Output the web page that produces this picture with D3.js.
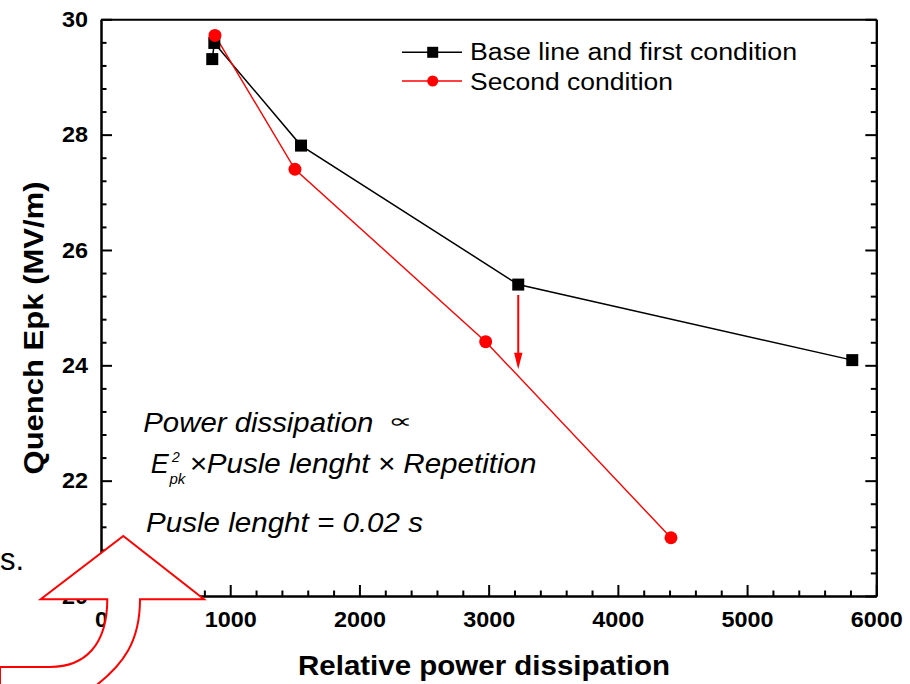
<!DOCTYPE html>
<html>
<head>
<meta charset="utf-8">
<script src="https://cdn.jsdelivr.net/npm/d3@7"></script>
<style>
  html, body { margin: 0; padding: 0; background: #fff; }
  svg { display: block; }
  text { font-family: "Liberation Sans", Arial, sans-serif; }
</style>
</head>
<body>
<svg id="chart" width="910" height="684"></svg>
<script>
// ---- data ----
const baseX = [861, 877, 1548, 3229, 5814];
const baseY = [29.31, 29.59, 27.81, 25.40, 24.09];
const secondX = [882, 1501, 2977, 4411];
const secondY = [29.72, 27.40, 24.41, 21.01];
const seriesNames = ["Base line and first condition", "Second condition"];
const xTicks = [0, 1000, 2000, 3000, 4000, 5000, 6000];
const yTicks = [20, 22, 24, 26, 28, 30];
const arrowX = [3229, 3229];
const arrowY = [25.22, 23.93];
const xTitle = "Relative power dissipation";
const yTitle = "Quench Epk (MV/m)";

const svg = d3.select("#chart");
const x = d3.scaleLinear().domain([0, 6000]).range([101, 876.3]);
const y = d3.scaleLinear().domain([20, 30]).range([596, 19.3]);

const axisFont = g => g.selectAll("text")
  .attr("font-family", '"Liberation Sans", Arial, sans-serif')
  .attr("font-size", 22.5).attr("font-weight", "bold").attr("fill", "#000")
  .attr("textLength", function() { return this.textContent.length * 13; })
  .attr("lengthAdjust", "spacingAndGlyphs");
const axisStroke = g => {
  g.selectAll("path.domain").attr("stroke", "#000").attr("stroke-width", 2);
  g.selectAll(".tick line").attr("stroke", "#000").attr("stroke-width", 2);
};

// minor ticks
const xMinor = d3.range(200, 6000, 200).filter(v => v % 1000 !== 0);
const yMinor = d3.range(20.4, 30, 0.4).filter(v => Math.abs(v/2 - Math.round(v/2)) > 0.01);

// bottom axis (major)
svg.append("g").attr("transform", `translate(0,${y(20)})`)
  .call(d3.axisBottom(x).tickValues(xTicks).tickSizeInner(-11).tickSizeOuter(0).tickPadding(15).tickFormat(d3.format("d")))
  .call(axisFont).call(axisStroke);
svg.append("g").attr("transform", `translate(0,${y(20)})`)
  .call(d3.axisBottom(x).tickValues(xMinor).tickSizeInner(-5.5).tickSizeOuter(0).tickFormat(""))
  .call(axisStroke);
// top axis line
svg.append("g").attr("transform", `translate(0,${y(30)})`)
  .call(d3.axisTop(x).tickValues([]).tickSizeOuter(0))
  .call(axisStroke);
// left axis
svg.append("g").attr("transform", `translate(${x(0)},0)`)
  .call(d3.axisLeft(y).tickValues(yTicks).tickSizeInner(-11).tickSizeOuter(0).tickPadding(13).tickFormat(d3.format("d")))
  .call(axisFont).call(axisStroke);
svg.append("g").attr("transform", `translate(${x(0)},0)`)
  .call(d3.axisLeft(y).tickValues(yMinor).tickSizeInner(-5.5).tickSizeOuter(0).tickFormat(""))
  .call(axisStroke);
// right axis
svg.append("g").attr("transform", `translate(${x(6000)},0)`)
  .call(d3.axisLeft(y).tickValues(yTicks).tickSizeInner(11).tickSizeOuter(0).tickFormat(""))
  .call(axisStroke);
svg.append("g").attr("transform", `translate(${x(6000)},0)`)
  .call(d3.axisLeft(y).tickValues(yMinor).tickSizeInner(5.5).tickSizeOuter(0).tickFormat(""))
  .call(axisStroke);

// axis titles
svg.append("text").attr("x", 484).attr("y", 675).attr("text-anchor", "middle")
  .attr("font-size", 28).attr("font-weight", "bold")
  .attr("textLength", 372).attr("lengthAdjust", "spacingAndGlyphs").text(xTitle);
svg.append("text").attr("transform", "translate(43,328) rotate(-90)").attr("text-anchor", "middle")
  .attr("font-size", 28).attr("font-weight", "bold")
  .attr("textLength", 293).attr("lengthAdjust", "spacingAndGlyphs").text(yTitle);

// series
const base = baseX.map((v, i) => [v, baseY[i]]);
const second = secondX.map((v, i) => [v, secondY[i]]);
const line = d3.line().x(d => x(d[0])).y(d => y(d[1]));

svg.append("path").datum(base).attr("d", line).attr("fill", "none").attr("stroke", "#000").attr("stroke-width", 1.5);
svg.append("path").datum(second).attr("d", line).attr("fill", "none").attr("stroke", "#ff0000").attr("stroke-width", 1.4);

svg.append("g").selectAll("rect").data(base).join("rect")
  .attr("x", d => x(d[0]) - 6).attr("y", d => y(d[1]) - 6)
  .attr("width", 12).attr("height", 12).attr("fill", "#000");
svg.append("g").selectAll("circle").data(second).join("circle")
  .attr("cx", d => x(d[0])).attr("cy", d => y(d[1])).attr("r", 6.5).attr("fill", "#ff0000");

// red annotation arrow
svg.append("line").attr("x1", x(arrowX[0])).attr("x2", x(arrowX[1]))
  .attr("y1", y(arrowY[0])).attr("y2", y(arrowY[1]) - 14)
  .attr("stroke", "#ff0000").attr("stroke-width", 2);
{
  const ax = x(arrowX[1]), ay = y(arrowY[1]);
  svg.append("path").attr("d", `M${ax},${ay} L${ax-4.2},${ay-16.5} L${ax+4.2},${ay-16.5} Z`).attr("fill", "#ff0000");
}

// legend
const legend = svg.append("g");
legend.append("line").attr("x1", 402).attr("x2", 462).attr("y1", 52.3).attr("y2", 52.3).attr("stroke", "#000").attr("stroke-width", 1.5);
legend.append("rect").attr("x", 432.7 - 5.5).attr("y", 52.3 - 5.5).attr("width", 11).attr("height", 11).attr("fill", "#000");
legend.append("text").attr("x", 470).attr("y", 60).attr("font-size", 23)
  .attr("textLength", 327).attr("lengthAdjust", "spacingAndGlyphs").text(seriesNames[0]);
legend.append("line").attr("x1", 402).attr("x2", 462).attr("y1", 81).attr("y2", 81).attr("stroke", "#ff0000").attr("stroke-width", 1.4);
legend.append("circle").attr("cx", 432.7).attr("cy", 81).attr("r", 5.5).attr("fill", "#ff0000");
legend.append("text").attr("x", 470).attr("y", 89.5).attr("font-size", 23)
  .attr("textLength", 203).attr("lengthAdjust", "spacingAndGlyphs").text(seriesNames[1]);

// formula text
const note = svg.append("g").attr("font-style", "italic").attr("fill", "#000");
note.append("text").attr("x", 143.3).attr("y", 431.7).attr("font-size", 27)
  .attr("textLength", 230).attr("lengthAdjust", "spacingAndGlyphs").text("Power dissipation");
note.append("text").attr("x", 388).attr("y", 428).attr("font-size", 20).attr("font-style", "normal")
  .attr("font-family", '"DejaVu Sans", sans-serif')
  .attr("textLength", 24).attr("lengthAdjust", "spacingAndGlyphs").text("∝");
note.append("text").attr("x", 150.7).attr("y", 473.3).attr("font-size", 27).text("E");
note.append("text").attr("x", 172).attr("y", 462).attr("font-size", 14).text("2");
note.append("text").attr("x", 169.5).attr("y", 483.5).attr("font-size", 15).text("pk");
note.append("text").attr("x", 189.5).attr("y", 473.3).attr("font-size", 27)
  .attr("textLength", 347).attr("lengthAdjust", "spacingAndGlyphs").text("×Pusle lenght × Repetition");
note.append("text").attr("x", 146).attr("y", 531.7).attr("font-size", 27)
  .attr("textLength", 277).attr("lengthAdjust", "spacingAndGlyphs").text("Pusle lenght = 0.02 s");

// overlay: big outlined red arrow and stray text
svg.append("path")
  .attr("d", "M123.3,536 L204,599.3 L140,599.3 C140,640 125,665 90,690 L0,690 L0,667 L50,667 C85,667 107.3,645 107.3,599.3 L40.7,599.3 Z")
  .attr("fill", "#fff").attr("stroke", "#ff0000").attr("stroke-width", 2).attr("stroke-linejoin", "miter");
svg.append("text").attr("x", 0).attr("y", 570).attr("font-size", 31)
  .attr("font-family", '"Liberation Serif", "Times New Roman", serif').text("s.");
</script>
</body>
</html>
